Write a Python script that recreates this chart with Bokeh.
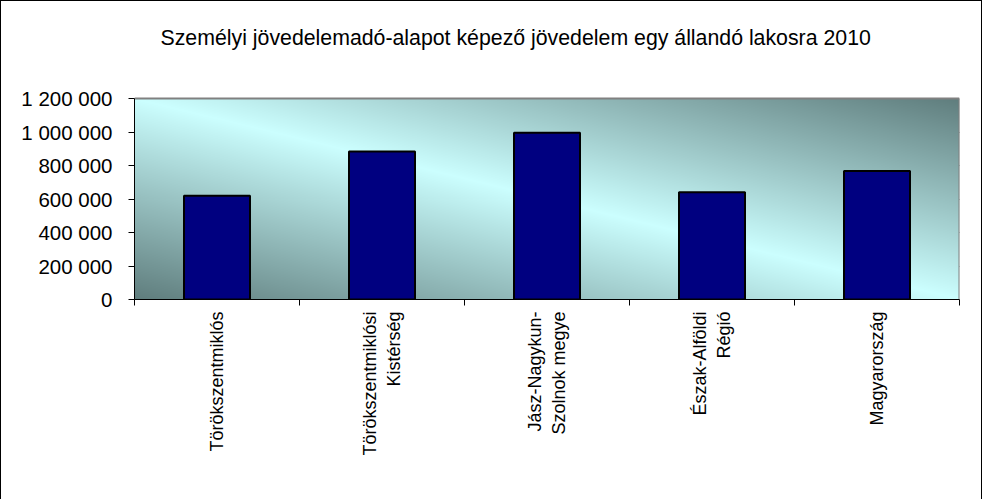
import math
import numpy as np
from bokeh.plotting import figure
from bokeh.models import Range1d, LinearAxis, FixedTicker, Label
from bokeh.embed import file_html
from bokeh.resources import INLINE

# ---- data ----
categories = [
    "Törökszentmiklós",
    "Törökszentmiklósi\nKistérség",
    "Jász-Nagykun-\nSzolnok megye",
    "Észak-Alföldi\nRégió",
    "Magyarország",
]
values = [620000, 884000, 995000, 640000, 767000]
y_ticks = [0, 200000, 400000, 600000, 800000, 1000000, 1200000]
y_tick_labels = ["0", "200 000", "400 000", "600 000", "800 000", "1 000 000", "1 200 000"]
title_text = "Személyi jövedelemadó-alapot képező jövedelem egy állandó lakosra 2010"

FONT = "Liberation Sans"
n = len(categories)
centers = [i + 0.5 for i in range(n)]
y_max = y_ticks[-1]

# plot area is 201 px tall; the frame is extended upward to hold the title
PLOT_H = 201
FRAME_H = 298
y_top = y_max * FRAME_H / PLOT_H

p = figure(
    x_range=Range1d(0, n),
    y_range=Range1d(0, y_top),
    frame_width=825, frame_height=FRAME_H,
    min_border_left=133, min_border_right=22, min_border_top=0, min_border_bottom=200,
    x_axis_location=None,
    output_backend="svg", toolbar_location=None,
    background_fill_color="white", border_fill_color="white",
)
p.styles = {"border": "1px solid black"}
p.outline_line_color = None

# gradient background for plot area (style only)
H, W = 200, 400
v = np.linspace(0, 1, H)[:, None]
u = np.linspace(0, 1, W)[None, :]
t = (u + v) / 2.0
w = 1 - np.abs(2 * t - 1)
dark = np.array([96, 126, 126], dtype=float)
light = np.array([204, 255, 255], dtype=float)
rgb = dark[None, None, :] + (light - dark)[None, None, :] * w[:, :, None]
img = np.empty((H, W), dtype=np.uint32)
view = img.view(dtype=np.uint8).reshape((H, W, 4))
view[:, :, 0] = rgb[:, :, 0].astype(np.uint8)
view[:, :, 1] = rgb[:, :, 1].astype(np.uint8)
view[:, :, 2] = rgb[:, :, 2].astype(np.uint8)
view[:, :, 3] = 255
p.image_rgba(image=[img], x=0, y=0, dw=n, dh=y_max)

# grid
p.xgrid.visible = False
p.ygrid.ticker = FixedTicker(ticks=y_ticks[1:-1])
p.ygrid.grid_line_color = "black"
p.ygrid.grid_line_width = 1

# plot-area border (top and right, grey)
p.segment(x0=[0, n], y0=[y_max, 0], x1=[n, n], y1=[y_max, y_max],
          line_color="#808080", line_width=2)

# bars
p.vbar(x=centers, top=values, width=0.4, bottom=0,
       fill_color="#000080", line_color="black", line_width=2)

# y axis
ya = p.yaxis[0]
ya.bounds = (0, y_max)
ya.ticker = FixedTicker(ticks=y_ticks)
ya.major_label_overrides = {tv: lab for tv, lab in zip(y_ticks, y_tick_labels)}
ya.major_label_text_font = FONT
ya.major_label_text_font_size = "20.5px"
ya.major_label_text_color = "black"
ya.major_tick_out = 6
ya.major_tick_in = 0
ya.minor_tick_line_color = None
ya.axis_line_color = "black"
ya.major_tick_line_color = "black"
ya.major_label_standoff = 16

# x tick marks at category edges
edge_axis = LinearAxis(ticker=FixedTicker(ticks=list(range(n + 1))),
                       major_label_text_font_size="0px",
                       major_label_standoff=0,
                       major_tick_out=6, major_tick_in=0,
                       minor_tick_line_color=None,
                       axis_line_color="black", major_tick_line_color="black")
edge_axis.major_label_overrides = {i: "" for i in range(n + 1)}
p.add_layout(edge_axis, "below")

# category labels
cat_axis = LinearAxis(ticker=FixedTicker(ticks=centers),
                      axis_line_color=None, major_tick_line_color=None,
                      minor_tick_line_color=None,
                      major_tick_out=0, major_tick_in=0,
                      major_label_orientation=math.pi / 2,
                      major_label_standoff=6,
                      major_label_text_font=FONT,
                      major_label_text_font_size="18px",
                      major_label_text_color="black",
                      major_label_text_align="center")
cat_axis.major_label_overrides = {c: lab for c, lab in zip(centers, categories)}
p.add_layout(cat_axis, "below")

# title (screen units, measured from frame bottom-left)
title = Label(x=26, y=FRAME_H - 36, x_units="screen", y_units="screen",
              text=title_text, text_font=FONT, text_font_size="21.3px",
              text_color="black", text_align="left", text_baseline="middle")
p.add_layout(title)

open("out.html", "w").write(file_html(p, INLINE))
